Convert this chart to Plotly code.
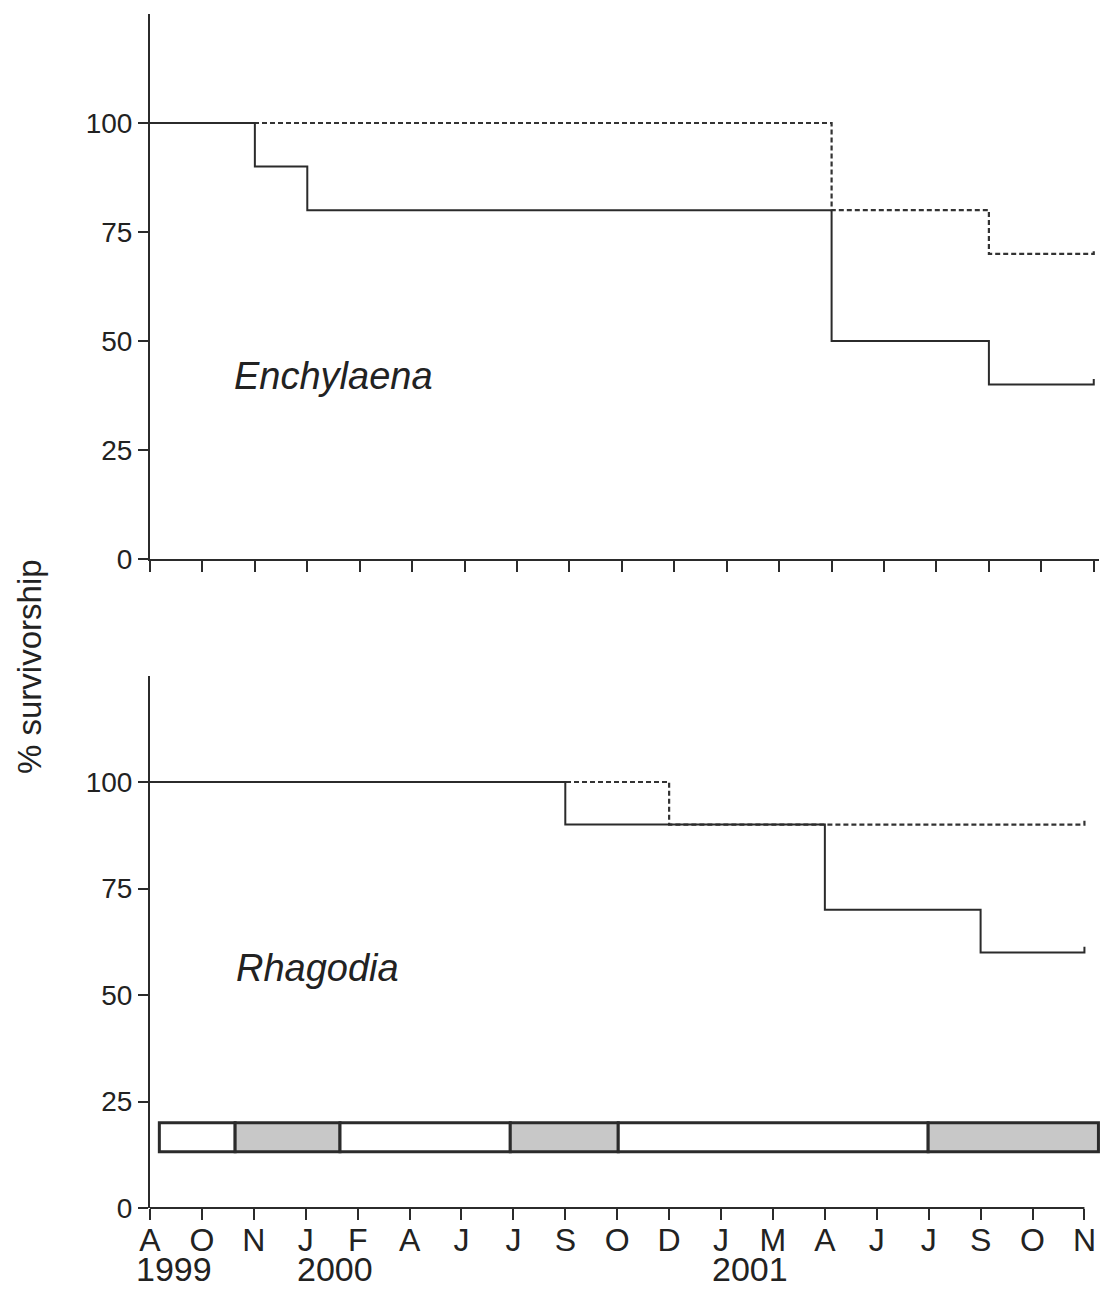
import plotly.graph_objects as go

# ---------------- data ----------------
months = ["A", "O", "N", "J", "F", "A", "J", "J", "S", "O", "D", "J", "M", "A", "J", "J", "S", "O", "N"]
month_idx = list(range(len(months)))
years = ["1999", "2000", "2001"]
year_idx = [0, 3, 11]

# Enchylaena (top panel)
ench_solid_x = [0, 2, 3, 13, 16, 18]
ench_solid_y = [100, 90, 80, 50, 40, 40]
ench_dash_x = [0, 13, 16, 18]
ench_dash_y = [100, 80, 70, 70]

# Rhagodia (bottom panel)
rhag_solid_x = [0, 8, 13, 16, 18]
rhag_solid_y = [100, 90, 70, 60, 60]
rhag_dash_x = [0, 10, 18]
rhag_dash_y = [100, 90, 90]

# seasonal bar (bottom panel)
season_bounds = [0.18, 1.64, 3.66, 6.94, 9.02, 14.99, 18.27]
season_fill = ["white", "#c8c8c8", "white", "#c8c8c8", "white", "#c8c8c8"]
season_y = [13.2, 20.0]

y_ticks = [0, 25, 50, 75, 100]

# ---------------- style ----------------
W, H = 1107, 1289
INK = "#2b2b2b"
FONT = "Liberation Sans, Arial, sans-serif"
CENSOR = 1.3


def with_censor(xs, ys):
    return xs + [xs[-1]], ys + [ys[-1] + CENSOR]


fig = go.Figure()

def add_series(xs, ys, dash, xa, ya, width, color):
    cx, cy = with_censor(xs, ys)
    fig.add_trace(go.Scatter(
        x=cx, y=cy, mode="lines", line=dict(shape="hv", dash=dash, width=width, color=color),
        xaxis=xa, yaxis=ya, showlegend=False, hoverinfo="skip"))

add_series(ench_dash_x, ench_dash_y, "5px,3px", "x", "y", 2.2, "#333")
add_series(ench_solid_x, ench_solid_y, "solid", "x", "y", 2, INK)
add_series(rhag_dash_x, rhag_dash_y, "5px,3px", "x2", "y2", 2.2, "#333")
add_series(rhag_solid_x, rhag_solid_y, "solid", "x2", "y2", 2, INK)

# geometry (paper fractions)
x_dom_top = [150 / W, 1099 / W]
x_dom_bot = [150 / W, 1100 / W]
y_dom_top = [(H - 559) / H, (H - 14) / H]
y_dom_bot = [(H - 1208) / H, (H - 675.5) / H]

axis_common = dict(showgrid=False, zeroline=False, ticks="outside", tickcolor=INK,
                   tickwidth=2, linecolor=INK, linewidth=2, automargin=False)

fig.update_layout(
    template="none",
    width=W, height=H, margin=dict(l=0, r=0, t=0, b=0, pad=0, autoexpand=False),
    paper_bgcolor="white", plot_bgcolor="white",
    font=dict(family=FONT, color="#222"),
    xaxis=dict(domain=x_dom_top, range=[0, 18.1], tickvals=month_idx, showticklabels=False,
               ticklen=11, showline=True, anchor="y", **axis_common),
    yaxis=dict(domain=y_dom_top, range=[0, 125], tickvals=y_ticks, ticklen=10,
               tickfont=dict(size=28), showline=True, anchor="x", **axis_common),
    xaxis2=dict(domain=x_dom_bot, range=[0, 18.3], tickvals=month_idx, ticktext=months,
                ticklen=11, tickfont=dict(size=32), showline=False, anchor="y2",
                ticklabelstandoff=-7, **axis_common),
    yaxis2=dict(domain=y_dom_bot, range=[0, 125], tickvals=y_ticks, ticklen=10,
                tickfont=dict(size=28), showline=True, anchor="x2", **axis_common),
)

shapes = []
# bottom x axis line (only up to last tick)
shapes.append(dict(type="line", xref="x2", yref="paper", x0=month_idx[0], x1=month_idx[-1],
                   y0=y_dom_bot[0], y1=y_dom_bot[0], line=dict(color=INK, width=2)))
# seasonal bar segments
for i, fill in enumerate(season_fill):
    shapes.append(dict(type="rect", xref="x2", yref="y2",
                       x0=season_bounds[i], x1=season_bounds[i + 1],
                       y0=season_y[0], y1=season_y[1],
                       fillcolor=fill, line=dict(color=INK, width=3)))
fig.update_layout(shapes=shapes)

annotations = []
for yi, yl in zip(year_idx, years):
    annotations.append(dict(text=yl, xref="x2", yref="paper", x=yi, y=0,
                            xanchor="left", yanchor="bottom", xshift=-15 if yi == 0 else -10,
                            borderpad=0, showarrow=False,
                            font=dict(size=34, family=FONT, color="#222")))
annotations.append(dict(text="<i>Enchylaena</i>", xref="paper", yref="paper",
                        x=232 / W, y=(H - 376) / H, xanchor="left", yanchor="middle",
                        showarrow=False, font=dict(size=38, family=FONT, color="#222")))
annotations.append(dict(text="<i>Rhagodia</i>", xref="paper", yref="paper",
                        x=234 / W, y=(H - 968) / H, xanchor="left", yanchor="middle",
                        showarrow=False, font=dict(size=38, family=FONT, color="#222")))
annotations.append(dict(text="% survivorship", xref="paper", yref="paper",
                        x=29 / W, y=(H - 667) / H, xanchor="center", yanchor="middle",
                        textangle=-90, showarrow=False,
                        font=dict(size=33, family=FONT, color="#222")))
fig.update_layout(annotations=annotations)

fig.write_html("out.html")
